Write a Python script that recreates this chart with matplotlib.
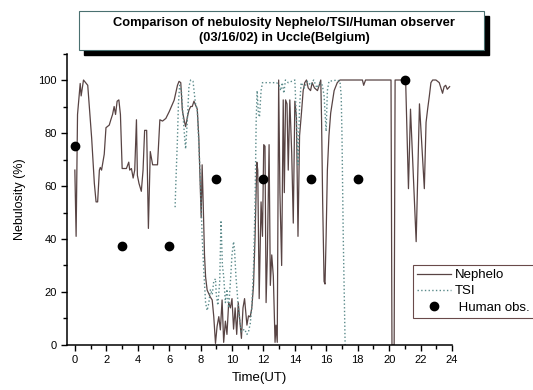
import matplotlib
matplotlib.use("Agg")
import matplotlib.pyplot as plt
from matplotlib.patches import Rectangle
from matplotlib.ticker import MultipleLocator

plt.rcParams["font.family"] = ["Liberation Sans", "DejaVu Sans"]

# Nephelometer nebulosity (%) vs time (UT)
neph_t = [0, 0.08, 0.17, 0.34, 0.4, 0.55, 0.82, 1.07, 1.24, 1.35, 1.45, 1.56, 1.62, 1.7,
          1.87, 1.98, 2.19, 2.29, 2.4, 2.5, 2.59, 2.69, 2.8, 2.9, 3.01, 3.28, 3.43, 3.49,
          3.6, 3.71, 3.81, 3.92, 3.98, 4.08, 4.23, 4.34, 4.44, 4.57, 4.68, 4.8, 4.95, 5.26,
          5.41, 5.58, 5.79, 6.0, 6.32, 6.53, 6.63, 6.74, 6.84, 6.95, 7.05, 7.16, 7.26, 7.37,
          7.47, 7.58, 7.68, 7.79, 7.89, 8.04, 8.1, 8.17, 8.25, 8.32, 8.42, 8.63, 8.74, 8.84,
          8.95, 9.05, 9.16, 9.26, 9.37, 9.47, 9.58, 9.68, 9.79, 9.9, 10.0, 10.1, 10.2, 10.3,
          10.4, 10.5, 10.6, 10.7, 10.8, 10.95, 11.05, 11.16, 11.26, 11.37, 11.47, 11.58,
          11.64, 11.73, 11.85, 11.94, 12.02, 12.1, 12.17, 12.25, 12.36, 12.44, 12.53, 12.63,
          12.74, 12.8, 12.88, 12.97, 13.05, 13.16, 13.26, 13.33, 13.41, 13.5, 13.58, 13.68,
          13.8, 13.9, 14.0, 14.1, 14.2, 14.3, 14.42, 14.53, 14.63, 14.74, 14.85, 15.0, 15.1,
          15.25, 15.44, 15.55, 15.65, 15.7, 15.77, 15.86, 15.92, 15.99, 16.07, 16.17, 16.28,
          16.5, 16.7, 16.87, 18.3, 18.38, 18.5, 20.12, 20.18, 20.32, 20.38, 21.05, 21.23,
          21.36, 21.72, 21.93, 22.24, 22.35, 22.45, 22.56, 22.66, 22.77, 22.98, 23.19, 23.4,
          23.5, 23.6, 23.7, 23.85]
neph_v = [66, 41, 87, 98.7, 94, 100, 98, 78, 61, 54, 54, 66, 67, 66,
          72, 82, 83, 85, 87, 90, 87, 92, 92.5, 87, 66.6, 66.6, 69, 66,
          66.6, 63, 66, 85, 64, 61, 58, 66, 81, 81, 44, 73, 68, 68,
          85, 84.5, 85.5, 88, 92.4, 98, 99.5, 99, 88.6, 85, 82.4, 86, 88.6, 90,
          90, 92, 90.6, 89, 78, 48, 68, 53, 34, 25.7, 20.7, 18, 17, 10.7,
          0.6, 7, 10.7, 5.7, 17, 1, 9, 4, 16, 14, 17.5, 6, 14, 4,
          16, 9, 2.5, 14, 17.5, 7.5, 11, 10.6, 14, 22.5, 41, 69,
          66, 17.5, 54, 41, 75.6, 75, 16, 34, 75.6, 22.5, 34, 26,
          1, 7.5, 1, 100, 57.5, 30, 92.5, 57.5, 92.5, 91, 66, 92.5,
          72.5, 46, 92, 86, 41, 79, 87.5, 96, 99, 100, 97, 96, 99,
          97, 96, 98, 100, 85, 54, 24, 23, 41, 66, 79, 87.5,
          96, 99, 100, 100, 98, 100, 100, 0, 0, 100, 100, 59,
          89, 39, 91, 59, 84, 89, 94, 99, 100, 100, 99, 95,
          97.5, 98, 96.5, 97.5]

# Total Sky Imager nebulosity (%), daylight only
tsi_t = [6.38, 6.42, 6.53, 6.59, 6.67, 6.78, 6.88, 6.99, 7.05, 7.16, 7.26, 7.37, 7.52,
         7.62, 7.68, 7.79, 7.96, 8.1, 8.21, 8.32, 8.42, 8.53, 8.63, 8.74, 8.84, 8.95, 9.0,
         9.1, 9.22, 9.3, 9.39, 9.47, 9.58, 9.68, 9.79, 9.9, 10.0, 10.1, 10.16, 10.25, 10.38,
         10.5, 10.6, 10.8, 10.95, 11.05, 11.16, 11.26, 11.37, 11.47, 11.54, 11.6, 11.68,
         11.75, 11.85, 11.94, 12.2, 12.84, 13.0, 13.1, 13.2, 13.3, 13.4, 13.58, 14.0, 14.1,
         14.2, 14.3, 14.4, 14.6, 14.8, 15.0, 15.2, 15.4, 15.6, 15.75, 15.86, 15.99, 16.07,
         16.17, 16.7, 16.87, 16.95, 17.0, 17.08, 17.2]
tsi_v = [52, 60, 78, 91, 98, 96, 87, 78, 74, 85, 97.5, 100, 99.5,
         94, 91, 89, 66, 41, 27.5, 16, 13, 16, 21, 19, 24, 25, 19,
         15, 24, 47, 30, 26, 16, 21, 14, 24, 34, 39, 36, 26, 16,
         9, 5, 6, 4, 5, 8, 14, 29, 54, 85, 96, 87.5,
         86, 96, 99, 99, 99, 98, 96, 99, 95, 100, 99, 100, 85,
         68, 90, 99, 97, 99.5, 98, 100, 97, 99, 98, 94, 80.6, 96,
         99.5, 100, 99.5, 94, 79, 41, 0]

# Human observer (octas converted to %)
obs_t = [0, 3, 6, 9, 12, 15, 18, 21]
obs_v = [75, 37.5, 37.5, 62.5, 62.5, 62.5, 62.5, 100]

fig = plt.figure(figsize=(5.33, 3.9), dpi=100)
ax = fig.add_axes([0.1257, 0.1154, 0.7223, 0.7474])

ax.plot(neph_t, neph_v, color="#584444", linewidth=0.9, label="Nephelo")
ax.plot(tsi_t, tsi_v, color="#5a8a8a", linewidth=1.0, linestyle=":", label="TSI")
ax.plot(obs_t, obs_v, linestyle="none", marker="o", markersize=6,
        color="black", label=" Human obs.", clip_on=False)

ax.set_xlim(-0.5, 24)
ax.set_ylim(0, 110)
ax.xaxis.set_major_locator(MultipleLocator(2))
ax.xaxis.set_minor_locator(MultipleLocator(1))
ax.yaxis.set_minor_locator(MultipleLocator(10))
ax.set_yticks([0, 20, 40, 60, 80, 100])
ax.tick_params(which="major", direction="out", length=4, width=1, labelsize=8)
ax.tick_params(which="minor", direction="out", length=3, width=1)

for side in ["top", "right"]:
    ax.spines[side].set_visible(False)
for side in ["left", "bottom"]:
    ax.spines[side].set_linewidth(1.1)

ax.set_xlabel("Time(UT)", fontsize=9.5, labelpad=5)
ax.set_ylabel("Nebulosity (%)", fontsize=9, labelpad=9)

leg = ax.legend(loc="upper left", bbox_to_anchor=(413 / 533, (390 - 265) / 390),
                bbox_transform=fig.transFigure, borderaxespad=0, fontsize=9.5,
                handlelength=2.6, handletextpad=0.3, labelspacing=0.3,
                borderpad=0.3, fancybox=False, framealpha=1)
leg.get_frame().set_edgecolor("#6a4a4a")
leg.get_frame().set_linewidth(0.8)

# Title box with a drop shadow
bx, by, bw, bh = 79 / 533, (390 - 50) / 390, 405 / 533, 39 / 390
fig.patches.append(Rectangle((bx + 5 / 533, by - 5 / 390), bw, bh, transform=fig.transFigure,
                             facecolor="black", edgecolor="black", zorder=1))
fig.patches.append(Rectangle((bx, by), bw, bh, transform=fig.transFigure,
                             facecolor="white", edgecolor="#4a7070", linewidth=0.8, zorder=2))
fig.text(284 / 533, (390 - 30.5) / 390,
         "Comparison of nebulosity Nephelo/TSI/Human observer\n(03/16/02) in Uccle(Belgium)",
         ha="center", va="center", fontsize=9.3, fontweight="bold", linespacing=1.3, zorder=3)

fig.savefig("out.png", dpi=100)
